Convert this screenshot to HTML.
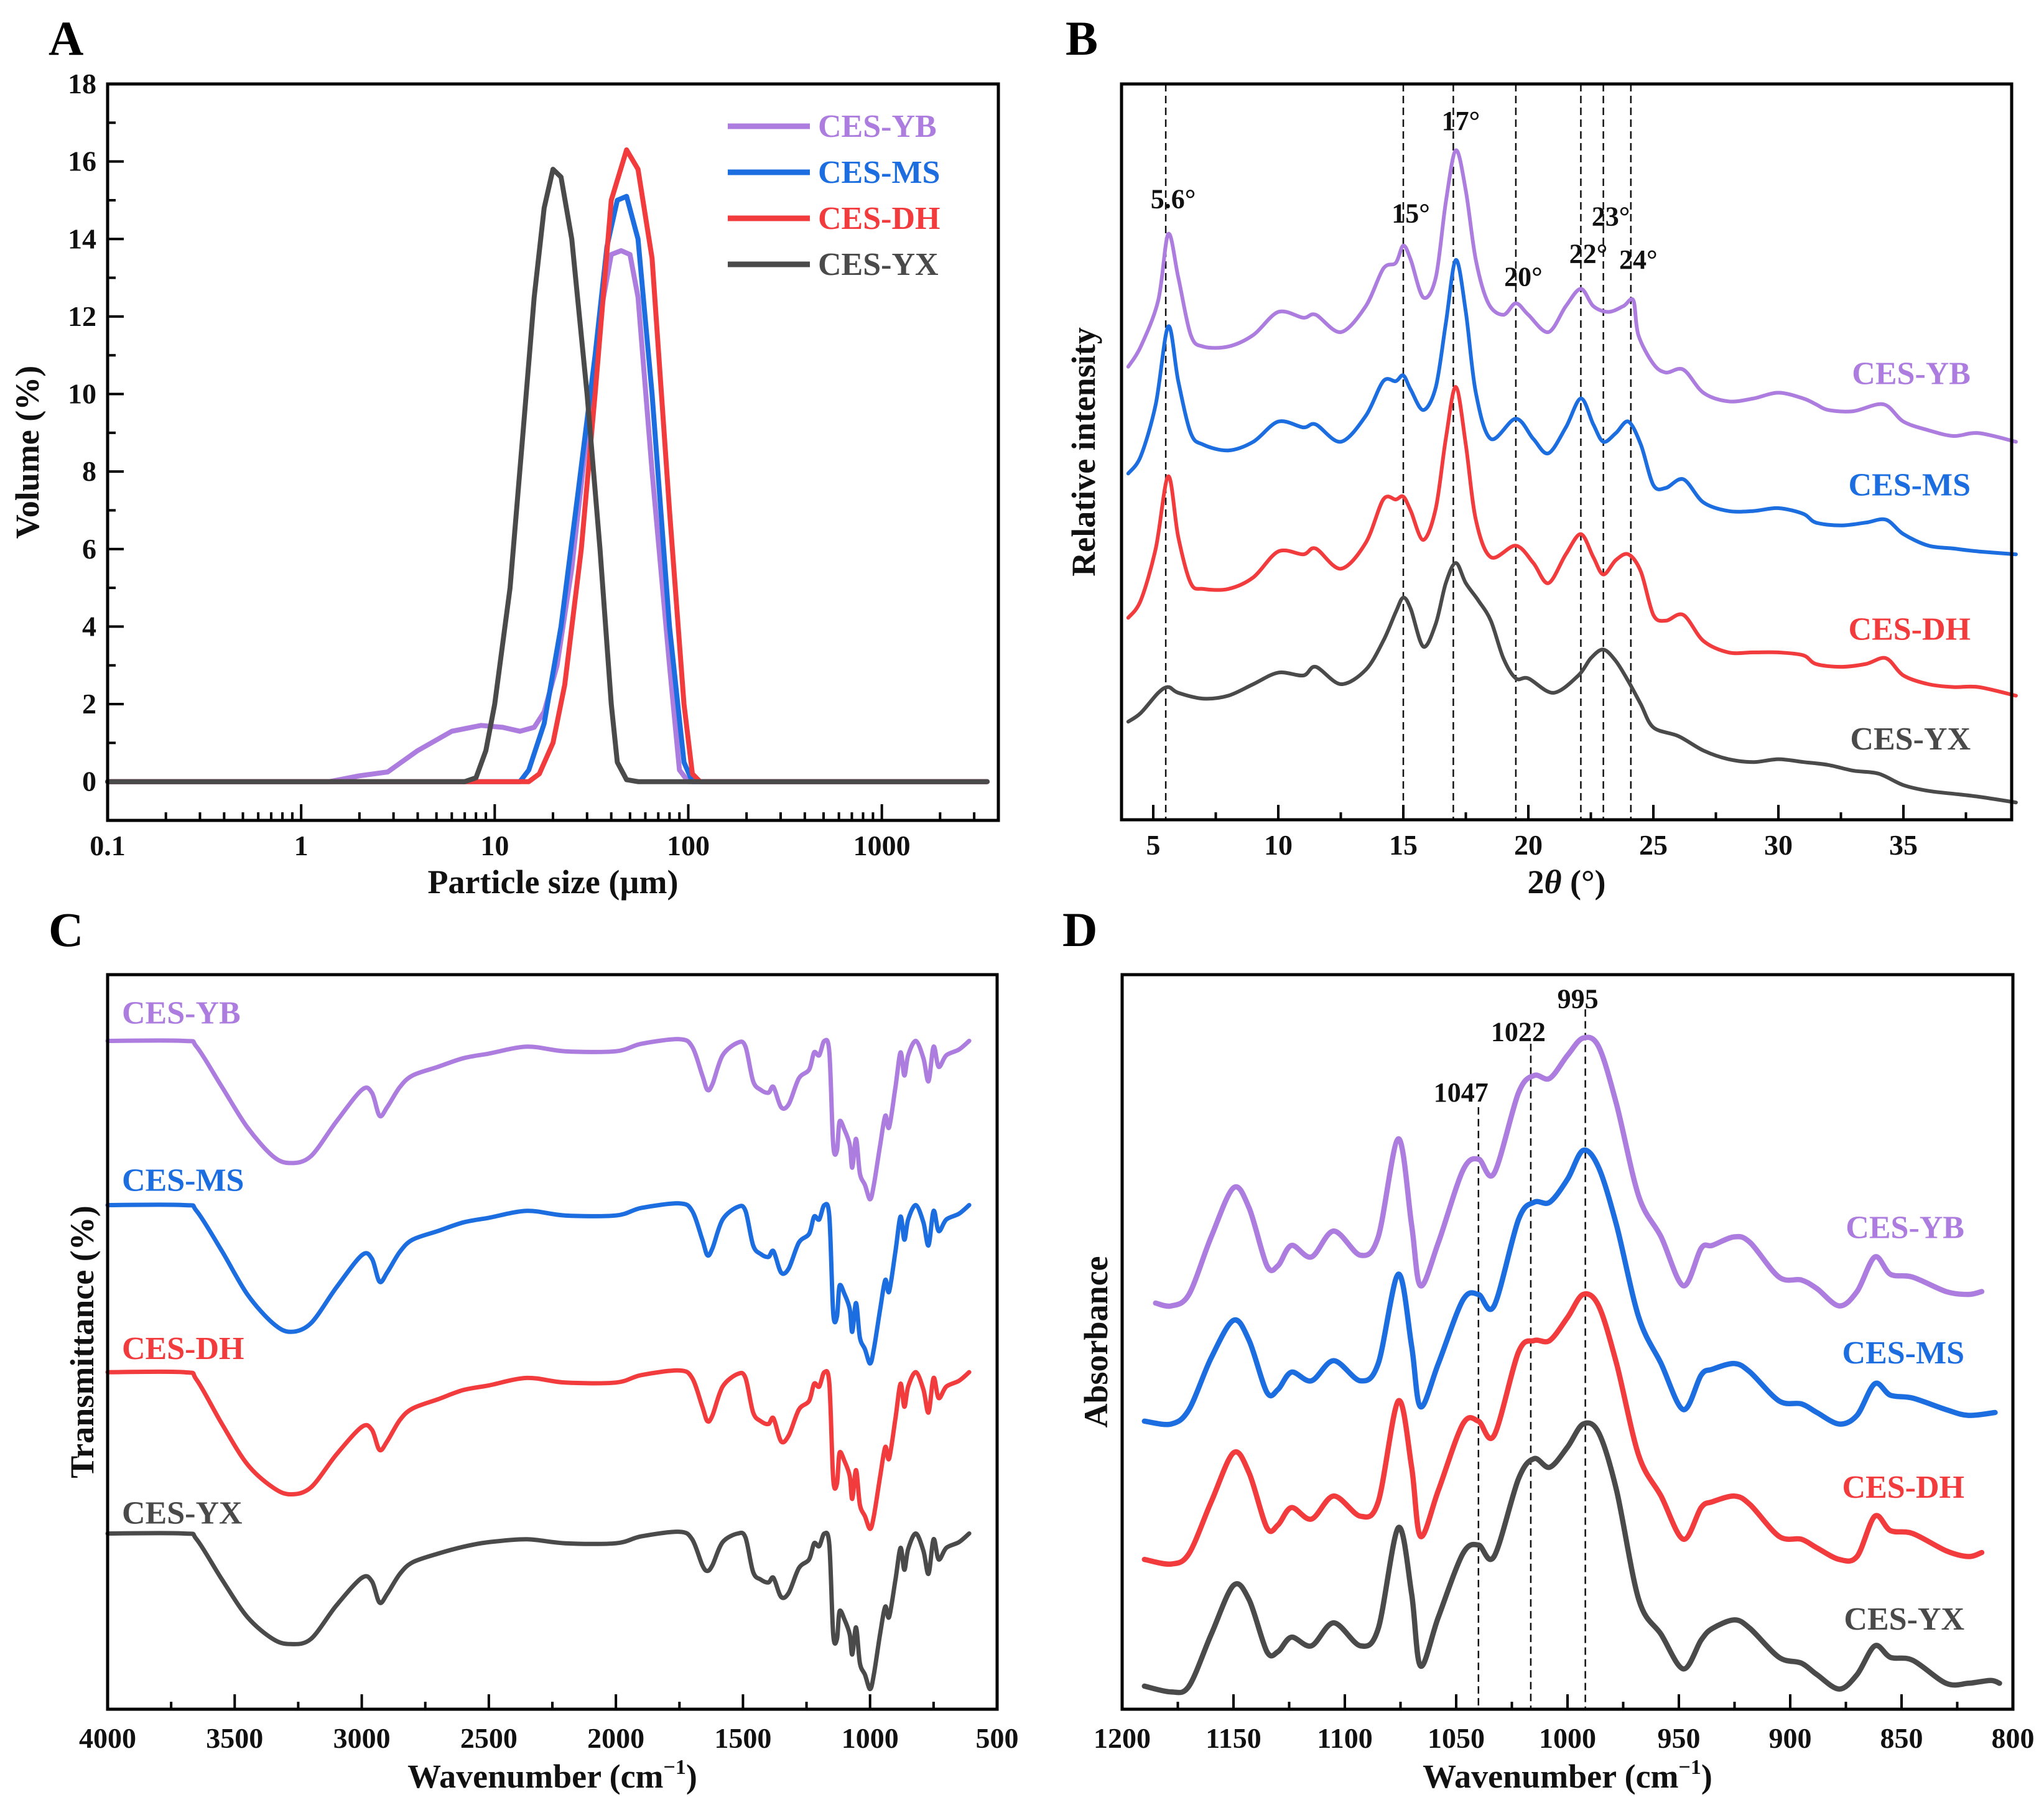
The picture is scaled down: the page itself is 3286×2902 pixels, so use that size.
<!DOCTYPE html>
<html><head><meta charset="utf-8"><style>
html,body{margin:0;padding:0;background:#fff}
svg{display:block}
text{font-family:"Liberation Serif",serif;font-weight:bold}
</style></head><body>
<svg id="fig" xmlns="http://www.w3.org/2000/svg" width="3286" height="2902" viewBox="0 0 3286 2902"></svg>
<script>
// ===== Panel A data: particle size (µm) vs volume (%) =====
const aYB=[[0.1,0],[1.4,0],[2,0.15],[2.8,0.25],[4,0.8],[6,1.3],[8.5,1.45],[11,1.4],[13.5,1.3],[16,1.4],[18,1.8],[21,3],[25,5.5],[30,9],[35,12],[40,13.6],[45,13.7],[50,13.6],[55,12.5],[65,8],[80,3],[90,0.3],[100,0],[3500,0]];
const aMS=[[0.1,0],[13.5,0],[15,0.3],[18,1.5],[22,4],[27,7.5],[33,11],[38,13.8],[43,15],[48,15.1],[55,14],[65,10],[80,4],[95,0.5],[105,0],[3500,0]];
const aDH=[[0.1,0],[7,0],[15,0],[17,0.2],[20,1],[23,2.5],[28,6],[33,10],[40,15],[48,16.3],[55,15.8],[65,13.5],[80,7],[95,2],[105,0.2],[115,0],[3500,0]];
const aYX=[[0.1,0],[7,0],[8,0.1],[9,0.8],[10,2],[12,5],[14,9],[16,12.5],[18,14.8],[20,15.8],[22,15.6],[25,14],[30,10],[35,6],[40,2],[43,0.5],[48,0.05],[55,0],[3500,0]];
const aXTicks=[0.1,1,10,100,1000];
const aXTickLabels=["0.1","1","10","100","1000"];
const aYTicks=[0,2,4,6,8,10,12,14,16,18];

// ===== Panel B data: 2θ vs relative intensity (inverted arbitrary units, larger = lower) =====
const bYB=[[4,635],[4.5,600],[5.2,520],[5.6,405],[6,480],[6.5,580],[7,600],[8,600],[9,580],[10,540],[11,550],[11.5,545],[12.5,575],[13.5,530],[14.2,465],[14.7,455],[15,425],[15.3,450],[15.8,515],[16.3,480],[16.7,350],[17.1,260],[17.5,330],[17.9,450],[18.4,525],[19,545],[19.5,525],[20,545],[20.8,575],[21.5,530],[22.1,500],[22.6,530],[23.2,540],[23.8,530],[24.2,520],[24.4,580],[25,630],[25.5,645],[26.2,640],[27,680],[28,695],[29,690],[30,680],[31,690],[31.5,700],[32,710],[33,712],[34.2,700],[35,730],[36,745],[37,755],[38,750],[39.5,765]];
const bMS=[[4,820],[4.5,790],[5.1,700],[5.6,565],[6,660],[6.5,750],[7,770],[8,780],[9,765],[10,730],[11,740],[11.5,735],[12.5,765],[13.5,720],[14.2,660],[14.7,660],[15,650],[15.3,675],[15.8,710],[16.3,670],[16.7,560],[17.1,450],[17.5,540],[17.9,680],[18.5,760],[19.5,725],[20.2,760],[20.8,785],[21.5,740],[22.1,690],[22.6,735],[23,765],[23.5,750],[24,730],[24.5,770],[25,840],[25.5,845],[26.2,830],[27,870],[28,885],[29,885],[30,880],[31,890],[31.5,905],[32.5,910],[33.5,905],[34.3,900],[35,925],[36,945],[37,950],[38,955],[39.5,960]];
const bDH=[[4,1070],[4.5,1040],[5.1,950],[5.6,825],[6,930],[6.5,1010],[7,1020],[8,1020],[9,1000],[10,955],[11,960],[11.5,950],[12.5,985],[13.5,940],[14.2,865],[14.7,865],[15,860],[15.3,885],[15.8,935],[16.3,880],[16.7,760],[17.1,670],[17.5,770],[17.9,900],[18.5,965],[19.5,945],[20.2,975],[20.8,1010],[21.5,960],[22.1,925],[22.6,965],[23,995],[23.5,970],[24,960],[24.5,990],[25,1065],[25.5,1075],[26.2,1065],[27,1110],[28,1130],[29,1130],[30,1130],[31,1135],[31.5,1150],[32.5,1155],[33.5,1150],[34.3,1140],[35,1170],[36,1185],[37,1190],[38,1190],[39.5,1205]];
const bYX=[[4,1250],[4.5,1235],[5.2,1200],[5.6,1190],[6,1200],[7,1210],[8,1205],[9,1185],[10,1165],[11,1170],[11.5,1155],[12.5,1185],[13.5,1160],[14.2,1110],[14.7,1060],[15,1035],[15.3,1055],[15.8,1120],[16.3,1080],[16.7,1010],[17.1,975],[17.5,1010],[18,1040],[18.5,1075],[19,1140],[19.5,1175],[20,1175],[21,1200],[22,1170],[22.5,1140],[23,1125],[23.5,1145],[24,1180],[24.5,1220],[25,1260],[26,1275],[27,1300],[28,1315],[29,1320],[30,1315],[31,1320],[32,1325],[33,1335],[34,1340],[35,1360],[36,1370],[37,1375],[38,1380],[39.5,1390]];
const bXTicks=[5,10,15,20,25,30,35];
const bPeaks=[5.5,15,17,19.5,22.1,23,24.1];
const bPeakLabels=["5.6°","15°","17°","20°","22°","23°","24°"];

// ===== Panel C data: wavenumber vs transmittance (inverted arbitrary units) =====
const cYB=[[4000,240],[3700,240],[3650,250],[3550,320],[3450,390],[3350,440],[3280,452],[3200,440],[3100,380],[3000,325],[2960,330],[2930,370],[2900,355],[2850,320],[2800,300],[2700,285],[2600,270],[2500,262],[2350,250],[2200,258],[2000,258],[1900,245],[1750,237],[1700,250],[1660,300],[1640,325],[1620,315],[1580,265],[1520,243],[1490,250],[1460,310],[1430,325],[1400,330],[1380,320],[1350,355],[1320,350],[1280,305],[1240,290],[1220,260],[1200,265],[1180,240],[1160,260],[1145,420],[1130,430],[1120,380],[1100,395],[1080,420],[1070,460],[1055,410],[1040,470],[1020,490],[1000,515],[985,490],[960,420],[940,370],[925,390],[900,320],[880,260],[865,300],[850,265],[820,240],[790,270],[770,310],[750,250],[730,285],[700,265],[650,255],[610,240]];
const cMS=[[4000,525],[3700,525],[3650,535],[3550,605],[3450,680],[3350,730],[3280,745],[3200,730],[3100,668],[3000,612],[2960,618],[2930,658],[2900,642],[2850,606],[2800,585],[2700,570],[2600,555],[2500,547],[2350,535],[2200,543],[2000,543],[1900,530],[1750,522],[1700,535],[1660,585],[1640,612],[1620,600],[1580,550],[1520,528],[1490,535],[1460,595],[1430,610],[1400,615],[1380,605],[1350,642],[1320,635],[1280,590],[1240,575],[1220,545],[1200,550],[1180,525],[1160,545],[1145,712],[1130,718],[1120,665],[1100,680],[1080,705],[1070,745],[1055,695],[1040,755],[1020,775],[1000,800],[985,775],[960,705],[940,655],[925,675],[900,605],[880,545],[865,585],[850,550],[820,525],[790,555],[770,595],[750,535],[730,570],[700,550],[650,540],[610,525]];
const cDH=[[4000,815],[3700,815],[3650,828],[3550,905],[3450,975],[3350,1015],[3280,1027],[3200,1015],[3100,958],[3000,910],[2960,915],[2930,950],[2900,935],[2850,898],[2800,878],[2700,862],[2600,846],[2500,838],[2350,825],[2200,833],[2000,833],[1900,820],[1750,812],[1700,825],[1660,875],[1640,900],[1620,890],[1580,840],[1520,818],[1490,825],[1460,885],[1430,900],[1400,905],[1380,895],[1350,935],[1320,925],[1280,880],[1240,865],[1220,835],[1200,840],[1180,815],[1160,835],[1145,1000],[1130,1008],[1120,955],[1100,970],[1080,995],[1070,1035],[1055,985],[1040,1045],[1020,1065],[1000,1087],[985,1065],[960,995],[940,945],[925,965],[900,895],[880,835],[865,875],[850,840],[820,815],[790,845],[770,885],[750,825],[730,860],[700,840],[650,830],[610,815]];
const cYX=[[4000,1095],[3700,1095],[3650,1105],[3550,1175],[3450,1240],[3350,1278],[3280,1287],[3200,1278],[3100,1220],[3000,1172],[2960,1178],[2930,1215],[2900,1200],[2850,1165],[2800,1145],[2700,1130],[2600,1118],[2500,1110],[2350,1105],[2200,1112],[2000,1112],[1900,1100],[1750,1092],[1700,1105],[1660,1150],[1640,1160],[1620,1150],[1580,1110],[1520,1095],[1490,1102],[1460,1162],[1430,1175],[1400,1180],[1380,1172],[1350,1205],[1320,1198],[1280,1155],[1240,1140],[1220,1112],[1200,1117],[1180,1095],[1160,1115],[1145,1270],[1130,1278],[1120,1230],[1100,1245],[1080,1270],[1070,1305],[1055,1258],[1040,1320],[1020,1340],[1000,1365],[985,1340],[960,1268],[940,1222],[925,1240],[900,1175],[880,1120],[865,1158],[850,1122],[820,1095],[790,1125],[770,1165],[750,1105],[730,1140],[700,1120],[650,1110],[610,1095]];
const cXTicks=[4000,3500,3000,2500,2000,1500,1000,500];

// ===== Panel D data: wavenumber vs absorbance (inverted arbitrary units) =====
const dYB=[[1185,695],[1178,700],[1170,680],[1160,580],[1150,495],[1143,530],[1135,630],[1130,630],[1124,595],[1115,615],[1105,570],[1093,612],[1085,580],[1076,410],[1070,560],[1066,665],[1058,590],[1047,465],[1040,445],[1033,470],[1022,330],[1015,300],[1008,305],[1000,265],[993,235],[986,250],[978,350],[968,510],[958,580],[948,665],[940,600],[935,595],[925,580],[918,590],[905,650],[895,655],[888,670],[878,700],[870,675],[862,615],[855,645],[845,650],[830,675],[820,680],[814,675]];
const dMS=[[1190,900],[1178,905],[1170,880],[1160,790],[1150,725],[1143,760],[1135,850],[1130,845],[1124,815],[1115,830],[1105,795],[1093,830],[1085,800],[1076,645],[1070,770],[1066,875],[1058,800],[1047,690],[1040,680],[1033,700],[1022,550],[1015,520],[1008,520],[1000,480],[993,430],[986,460],[978,560],[968,720],[958,800],[948,880],[940,820],[935,810],[925,800],[918,815],[905,865],[895,870],[888,885],[878,905],[870,890],[862,835],[855,855],[845,860],[830,880],[820,890],[808,885]];
const dDH=[[1190,1140],[1178,1148],[1170,1130],[1160,1040],[1150,955],[1143,990],[1135,1085],[1130,1080],[1124,1050],[1115,1070],[1105,1030],[1093,1065],[1085,1040],[1076,865],[1070,980],[1066,1100],[1058,1020],[1047,905],[1040,900],[1033,925],[1022,780],[1015,760],[1008,760],[1000,720],[993,680],[986,700],[978,800],[968,960],[958,1030],[948,1105],[940,1050],[935,1040],[925,1030],[918,1045],[905,1100],[895,1105],[888,1120],[878,1140],[870,1135],[862,1065],[855,1090],[845,1095],[830,1125],[820,1135],[814,1128]];
const dYX=[[1190,1360],[1178,1370],[1170,1360],[1160,1270],[1150,1185],[1143,1210],[1135,1300],[1130,1300],[1124,1275],[1115,1290],[1105,1250],[1093,1290],[1085,1260],[1076,1085],[1070,1200],[1066,1325],[1058,1240],[1047,1130],[1040,1115],[1033,1135],[1022,1000],[1015,965],[1008,980],[1000,945],[993,905],[986,920],[978,1020],[968,1210],[958,1270],[948,1330],[940,1280],[935,1260],[925,1245],[918,1260],[905,1310],[895,1320],[888,1340],[878,1365],[870,1340],[862,1290],[855,1310],[845,1315],[830,1355],[820,1355],[810,1350],[806,1355]];
const dXTicks=[1200,1150,1100,1050,1000,950,900,850,800];
const dPeaks=[1040,1016.5,992];
const dPeakLabels=["1047","1022","995"];

const COL={YB:"#ac7ddf",MS:"#1c6ee0",DH:"#f23b3d",YX:"#4a4a4a"};
const NS="http://www.w3.org/2000/svg";
const svg=document.getElementById('fig');
function el(tag,attrs,parent){const e=document.createElementNS(NS,tag);for(const k in attrs)e.setAttribute(k,attrs[k]);(parent||svg).appendChild(e);return e;}
function txt(s,x,y,size,fill,anchor,parent){const t=el('text',{x:x,y:y,'font-size':size,fill:fill||'#111','text-anchor':anchor||'middle'},parent);t.textContent=s;return t;}
function lin(d0,d1,r0,r1){return v=>r0+(v-d0)/(d1-d0)*(r1-r0);}
function pathD(pts,sx,sy){return pts.map((p,i)=>(i?'L':'M')+sx(p[0]).toFixed(1)+','+sy(p[1]).toFixed(1)).join('');}
function smoothD(pts,sx,sy){
  const P=pts.map(p=>[sx(p[0]),sy(p[1])]);
  let d='M'+P[0][0].toFixed(1)+','+P[0][1].toFixed(1);
  const t=0.16;
  for(let i=0;i<P.length-1;i++){
    const p0=P[Math.max(0,i-1)],p1=P[i],p2=P[i+1],p3=P[Math.min(P.length-1,i+2)];
    const c1=[p1[0]+(p2[0]-p0[0])*t,p1[1]+(p2[1]-p0[1])*t];
    const c2=[p2[0]-(p3[0]-p1[0])*t,p2[1]-(p3[1]-p1[1])*t];
    d+='C'+c1[0].toFixed(1)+','+c1[1].toFixed(1)+' '+c2[0].toFixed(1)+','+c2[1].toFixed(1)+' '+p2[0].toFixed(1)+','+p2[1].toFixed(1);
  }
  return d;
}

function frame(g,x0,y0,x1,y1){
  const r=el('rect',{x:x0,y:y0,width:x1-x0,height:y1-y0,fill:'none',stroke:'#000','stroke-width':5},g);
  
  
}
function series(g,pts,sx,sy,color,w,name,smooth){
  const p=el('path',{d:smooth?smoothD(pts,sx,sy):pathD(pts,sx,sy),fill:'none',stroke:color,'stroke-width':w,'stroke-linejoin':'round','stroke-linecap':'round'},g);
  
  
}
function panelLetter(s,x,y){const t=txt(s,x,y,78,'#000','start');
  
  }

// ---------- Panel A ----------
(function(){
  const g=el('g',{});
  
  
  const x0=173,x1=1605,y0=135,y1=1319;
  const lx=lin(-1,Math.log10(4000),x0,x1);
  const sx=v=>lx(Math.log10(v));
  const sy=lin(-1,18,y1,y0);
  for(let d=-1;d<4;d++){for(let m=2;m<10;m++){const v=m*Math.pow(10,d);const x=sx(v);if(x>x1)continue;
    el('line',{x1:x,y1:y1,x2:x,y2:y1-13,stroke:'#000','stroke-width':4},g);}}
  aXTicks.forEach((v,i)=>{const x=sx(v);el('line',{x1:x,y1:y1,x2:x,y2:y1-26,stroke:'#000','stroke-width':4},g);
    const t=txt(aXTickLabels[i],x,y1+56,46,'#111','middle',g);
    
    });
  for(let v=-1;v<=18;v++){const y=sy(v);el('line',{x1:x0,y1:y,x2:x0+(v%2===0?26:13),y2:y,stroke:'#000','stroke-width':4},g);}
  aYTicks.forEach(v=>{const t=txt(String(v),x0-18,sy(v)+15,46,'#111','end',g);
    
    });
  series(g,aYB,sx,sy,COL.YB,8,'line-ces-yb',false);
  series(g,aMS,sx,sy,COL.MS,8,'line-ces-ms',false);
  series(g,aDH,sx,sy,COL.DH,8,'line-ces-dh',false);
  series(g,aYX,sx,sy,COL.YX,8,'line-ces-yx',false);
  frame(g,x0,y0,x1,y1);
  const leg=[["CES-YB",COL.YB],["CES-MS",COL.MS],["CES-DH",COL.DH],["CES-YX",COL.YX]];
  leg.forEach((l,i)=>{const y=203+i*74;
    const ln=el('line',{x1:1170,y1:y,x2:1302,y2:y,stroke:l[1],'stroke-width':9},g);
    
    
    const t=txt(l[0],1315,y+17,52,l[1],'start',g);
    
    });
  const xt=txt('Particle size (µm)',(x0+x1)/2,1436,54,'#111','middle',g);
  
  
  const yt=txt('Volume (%)',0,0,54,'#111','middle',g);
  yt.setAttribute('transform','translate(62,'+((y0+y1)/2)+') rotate(-90)');
  
  
  panelLetter('A',78,88);
})();

// ---------- Panel B ----------
(function(){
  const g=el('g',{});
  
  
  const x0=1803,x1=3234,y0=135,y1=1318;
  const sx=lin(5,35,1854,3060);
  const sy=lin(145,1420,y0,y1);
  for(let v=5;v<=39;v+=2.5){const x=sx(v);const major=(v%5===0);
    el('line',{x1:x,y1:y1,x2:x,y2:y1-(major?24:12),stroke:'#000','stroke-width':4},g);}
  bXTicks.forEach(v=>{const t=txt(String(v),sx(v),y1+56,46,'#111','middle',g);
    
    });
  const labY=[360,385,225,495,455,390,465];
  bPeaks.forEach((v,i)=>{const x=sx(v);
    const l=el('line',{x1:x,y1:y0,x2:x,y2:y1,stroke:'#111','stroke-width':2.5,'stroke-dasharray':'12,7'},g);
    
    
    const t=txt(bPeakLabels[i],x+12,sy(labY[i]),44,'#111','middle',g);
    
    });
  series(g,bYB,sx,sy,COL.YB,6,'line-ces-yb',true);
  series(g,bMS,sx,sy,COL.MS,6,'line-ces-ms',true);
  series(g,bDH,sx,sy,COL.DH,6,'line-ces-dh',true);
  series(g,bYX,sx,sy,COL.YX,6,'line-ces-yx',true);
  frame(g,x0,y0,x1,y1);
  [["CES-YB",COL.YB,665],["CES-MS",COL.MS,858],["CES-DH",COL.DH,1108],["CES-YX",COL.YX,1298]].forEach(l=>{
    const t=txt(l[0],3168,sy(l[2]),52,l[1],'end',g);
    
    });
  const xt=txt('',(x0+x1)/2,1436,54,'#111','middle',g);
  xt.innerHTML='2<tspan font-style="italic">θ</tspan> (°)';
  
  
  const yt=txt('Relative intensity',0,0,54,'#111','middle',g);
  yt.setAttribute('transform','translate(1760,'+((y0+y1)/2)+') rotate(-90)');
  
  
  panelLetter('B',1713,88);
})();

// ---------- Panel C ----------
(function(){
  const g=el('g',{});
  
  
  const x0=173,x1=1603,y0=1567,y1=2748;
  const sx=lin(4000,500,x0,x1);
  const sy=lin(125,1400,y0,y1);
  for(let v=4000;v>=500;v-=250){const x=sx(v);const major=(v%500===0);
    el('line',{x1:x,y1:y1,x2:x,y2:y1-(major?24:12),stroke:'#000','stroke-width':4},g);}
  cXTicks.forEach(v=>{const t=txt(String(v),sx(v),2810,46,'#111','middle',g);
    
    });
  series(g,cYB,sx,sy,COL.YB,7,'line-ces-yb',true);
  series(g,cMS,sx,sy,COL.MS,7,'line-ces-ms',true);
  series(g,cDH,sx,sy,COL.DH,7,'line-ces-dh',true);
  series(g,cYX,sx,sy,COL.YX,7,'line-ces-yx',true);
  frame(g,x0,y0,x1,y1);
  [["CES-YB",COL.YB,210],["CES-MS",COL.MS,500],["CES-DH",COL.DH,792],["CES-YX",COL.YX,1078]].forEach(l=>{
    const t=txt(l[0],196,sy(l[2]),52,l[1],'start',g);
    
    });
  const xt=txt('',(x0+x1)/2,2874,54,'#111','middle',g);
  xt.innerHTML='Wavenumber (cm<tspan font-size="34" dy="-22">−1</tspan><tspan dy="22">)</tspan>';
  
  
  const yt=txt('Transmittance (%)',0,0,54,'#111','middle',g);
  yt.setAttribute('transform','translate(150,'+((y0+y1)/2)+') rotate(-90)');
  
  
  panelLetter('C',78,1521);
})();

// ---------- Panel D ----------
(function(){
  const g=el('g',{});
  
  
  const x0=1804,x1=3236,y0=1567,y1=2748;
  const sx=lin(1200,800,x0,x1);
  const sy=lin(125,1400,y0,y1);
  for(let v=1200;v>=800;v-=25){const x=sx(v);const major=(v%50===0);
    el('line',{x1:x,y1:y1,x2:x,y2:y1-(major?24:12),stroke:'#000','stroke-width':4},g);}
  dXTicks.forEach(v=>{const t=txt(String(v),sx(v),2810,46,'#111','middle',g);
    
    });
  const lineTop=[355,245,185], labY=[345,240,183];
  dPeaks.forEach((v,i)=>{const x=sx(v);
    const l=el('line',{x1:x,y1:sy(lineTop[i]),x2:x,y2:y1,stroke:'#111','stroke-width':2.5,'stroke-dasharray':'12,7'},g);
    
    
    const t=txt(dPeakLabels[i],x-28+i*8,sy(labY[i]),44,'#111','middle',g);
    
    });
  series(g,dYB,sx,sy,COL.YB,8.5,'line-ces-yb',true);
  series(g,dMS,sx,sy,COL.MS,8.5,'line-ces-ms',true);
  series(g,dDH,sx,sy,COL.DH,8.5,'line-ces-dh',true);
  series(g,dYX,sx,sy,COL.YX,8.5,'line-ces-yx',true);
  frame(g,x0,y0,x1,y1);
  [["CES-YB",COL.YB,582],["CES-MS",COL.MS,800],["CES-DH",COL.DH,1033],["CES-YX",COL.YX,1262]].forEach(l=>{
    const t=txt(l[0],3158,sy(l[2]),52,l[1],'end',g);
    
    });
  const xt=txt('',(x0+x1)/2,2874,54,'#111','middle',g);
  xt.innerHTML='Wavenumber (cm<tspan font-size="34" dy="-22">−1</tspan><tspan dy="22">)</tspan>';
  
  
  const yt=txt('Absorbance',0,0,54,'#111','middle',g);
  yt.setAttribute('transform','translate(1780,'+((y0+y1)/2)+') rotate(-90)');
  
  
  panelLetter('D',1708,1521);
})();
</script>
</body></html>
